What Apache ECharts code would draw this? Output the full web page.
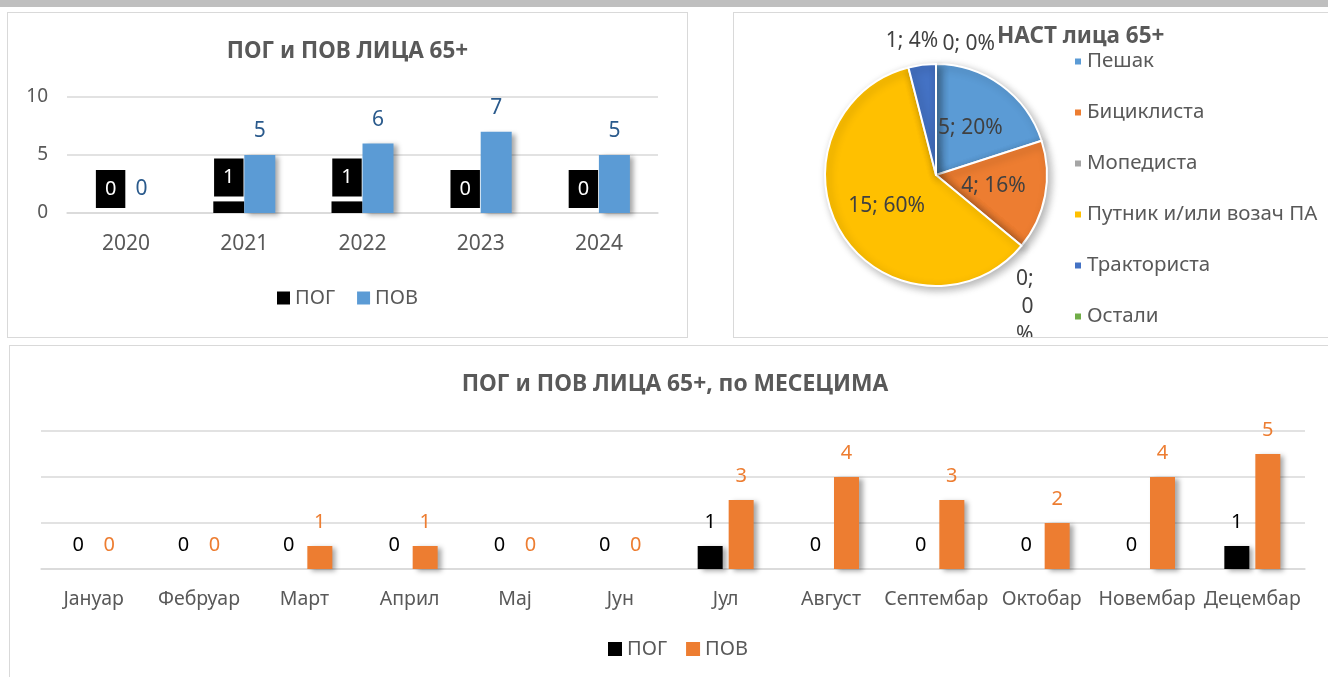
<!DOCTYPE html>
<html>
<head>
<meta charset="utf-8">
<script src="https://cdn.jsdelivr.net/npm/echarts@6/dist/echarts.min.js"></script>
<style>
    body { margin: 0; background: #fff; width: 1328px; height: 677px; overflow: hidden; position: relative; }
    .topbar { position: absolute; left: 0; top: 0; width: 1328px; height: 7px; background: #bfbfbf; }
    .panel { position: absolute; border: 1px solid #d9d9d9; background: #fff; }
    #p1 { left: 7px; top: 12px; width: 679px; height: 324px; }
    #p2 { left: 733px; top: 12px; width: 600px; height: 324px; }
    #p3 { left: 9px; top: 345px; width: 1330px; height: 340px; }
</style>
</head>
<body>
<div class="topbar"></div>
<div class="panel" id="p1"></div>
<div class="panel" id="p2"></div>
<div class="panel" id="p3"></div>
<script>
var years = ['2020', '2021', '2022', '2023', '2024'];
var pogYears = [0, 1, 1, 0, 0];
var povYears = [0, 5, 6, 7, 5];

var pieNames = ['Пешак', 'Бициклиста', 'Мопедиста', 'Путник и/или возач ПА', 'Тракториста', 'Остали'];
var pieValues = [5, 4, 0, 15, 1, 0];
var pieColors = ['#5b9bd5', '#ed7d31', '#a5a5a5', '#ffc000', '#4472c4', '#70ad47'];

var months = ['Јануар', 'Фебруар', 'Март', 'Април', 'Мај', 'Јун', 'Јул', 'Август', 'Септембар', 'Октобар', 'Новембар', 'Децембар'];
var pogMonths = [0, 0, 0, 0, 0, 0, 1, 0, 0, 0, 0, 1];
var povMonths = [0, 0, 1, 1, 0, 0, 3, 4, 3, 2, 4, 5];

var FONT = 'Noto Sans';
var grey = '#595959';
var barShadow = {
    shadowColor: 'rgba(0,0,0,0.35)',
    shadowBlur: 5,
    shadowOffsetX: 4,
    shadowOffsetY: 2
};

// годишњи графикон
function chart1() {
    var myChart = echarts.init(document.getElementById('p1'));
    var option = {
        animation: false,
        textStyle: { fontFamily: FONT },
        title: {
            text: 'ПОГ и ПОВ ЛИЦА 65+',
            left: 'center',
            top: 22,
            textStyle: { fontSize: 22.5, fontWeight: 'bold', color: grey, fontFamily: FONT }
        },
        legend: {
            data: ['ПОГ', 'ПОВ'],
            left: 264,
            top: 270,
            icon: 'rect',
            itemWidth: 13,
            itemHeight: 13,
            itemGap: 22,
            textStyle: { fontSize: 20, color: grey, fontFamily: FONT }
        },
        grid: { left: 59, top: 84, width: 591, height: 116 },
        xAxis: {
            type: 'category',
            data: years,
            axisLine: { lineStyle: { color: '#d9d9d9', width: 1.5 } },
            axisTick: { show: false },
            axisLabel: { fontSize: 21, color: grey, margin: 21 }
        },
        yAxis: {
            type: 'value',
            min: 0,
            max: 10,
            interval: 5,
            axisLine: { show: false },
            axisTick: { show: false },
            axisLabel: { fontSize: 19, color: grey, margin: 19 },
            splitLine: { lineStyle: { color: '#d9d9d9', width: 1.5 } }
        },
        series: [{
            name: 'ПОГ',
            type: 'bar',
            data: pogYears,
            barWidth: 31,
            barGap: '0%',
            itemStyle: { color: '#000' },
            label: {
                show: true,
                position: 'top',
                distance: 5,
                backgroundColor: '#000',
                color: '#fff',
                fontSize: 20,
                padding: [9, 9]
            }
        }, {
            name: 'ПОВ',
            type: 'bar',
            data: povYears,
            barWidth: 31,
            itemStyle: Object.assign({ color: '#5b9bd5' }, barShadow),
            label: {
                show: true,
                position: 'top',
                distance: 13,
                color: '#2a5a8c',
                fontSize: 21
            }
        }]
    };
    myChart.setOption(option);
}

// структура по учесницима
function chart2() {
    var myChart = echarts.init(document.getElementById('p2'));
    var data = pieNames.map(function(n, i) {
        var item = { name: n, value: pieValues[i], itemStyle: { color: pieColors[i] } };
        if (i == 0 || i == 1 || i == 3) {
            item.label = { position: 'inside' };
        }
        if (i == 2) {
            item.label = { width: 20, overflow: 'breakAll', lineHeight: 28 };
        }
        return item;
    });
    // помераји спољних натписа
    var shift = { 2: [-52, 52], 4: [105, -31], 5: [94, -5] };
    var option = {
        animation: false,
        textStyle: { fontFamily: FONT },
        title: {
            text: 'НАСТ лица 65+',
            left: 258,
            top: 7,
            textStyle: { fontSize: 22.5, fontWeight: 'bold', color: grey, fontFamily: FONT }
        },
        legend: {
            orient: 'vertical',
            left: 334,
            top: 33,
            icon: 'rect',
            itemWidth: 8,
            itemHeight: 8,
            itemGap: 30,
            data: pieNames,
            textStyle: { fontSize: 20.5, color: grey, fontFamily: FONT }
        },
        series: [{
            type: 'pie',
            center: [202, 162],
            radius: 111,
            startAngle: 90,
            clockwise: true,
            percentPrecision: 0,
            data: data,
            itemStyle: {
                borderColor: '#fff',
                borderWidth: 2,
                shadowColor: 'rgba(0,0,0,0.3)',
                shadowBlur: 8,
                shadowOffsetX: 3,
                shadowOffsetY: 3
            },
            label: {
                show: true,
                position: 'outside',
                formatter: '{c}; {d}%',
                fontSize: 21,
                color: '#404040',
                fontFamily: FONT
            },
            labelLine: { show: false },
            labelLayout: function(params) {
                var s = shift[params.dataIndex];
                if (s) {
                    return { dx: s[0], dy: s[1] };
                }
                return {};
            },
            emphasis: { disabled: true }
        }]
    };
    myChart.setOption(option);
}

// по месецима
function chart3() {
    var myChart = echarts.init(document.getElementById('p3'));
    var option = {
        animation: false,
        textStyle: { fontFamily: FONT },
        title: {
            text: 'ПОГ и ПОВ ЛИЦА 65+, по МЕСЕЦИМА',
            left: 'center',
            top: 22,
            textStyle: { fontSize: 22.8, fontWeight: 'bold', color: grey, fontFamily: FONT }
        },
        legend: {
            data: ['ПОГ', 'ПОВ'],
            left: 593,
            top: 288,
            icon: 'rect',
            itemWidth: 14,
            itemHeight: 14,
            itemGap: 19,
            textStyle: { fontSize: 20, color: grey, fontFamily: FONT }
        },
        grid: { left: 31, top: 85, width: 1264, height: 138 },
        xAxis: {
            type: 'category',
            data: months,
            axisLine: { lineStyle: { color: '#d9d9d9', width: 1.5 } },
            axisTick: { show: false },
            axisLabel: { fontSize: 19.5, color: grey, margin: 20, interval: 0 }
        },
        yAxis: {
            type: 'value',
            min: 0,
            max: 6,
            interval: 2,
            axisLine: { show: false },
            axisTick: { show: false },
            axisLabel: { show: false },
            splitLine: { lineStyle: { color: '#d9d9d9', width: 1.5 } }
        },
        series: [{
            name: 'ПОГ',
            type: 'bar',
            data: pogMonths,
            barWidth: 25,
            barGap: '24%',
            itemStyle: Object.assign({ color: '#000' }, barShadow),
            label: { show: true, position: 'top', distance: 14, color: '#000', fontSize: 20 }
        }, {
            name: 'ПОВ',
            type: 'bar',
            data: povMonths,
            barWidth: 25,
            itemStyle: Object.assign({ color: '#ed7d31' }, barShadow),
            label: { show: true, position: 'top', distance: 14, color: '#ed7d31', fontSize: 20 }
        }]
    };
    myChart.setOption(option);
}

chart1();
chart2();
chart3();
</script>
</body>
</html>
